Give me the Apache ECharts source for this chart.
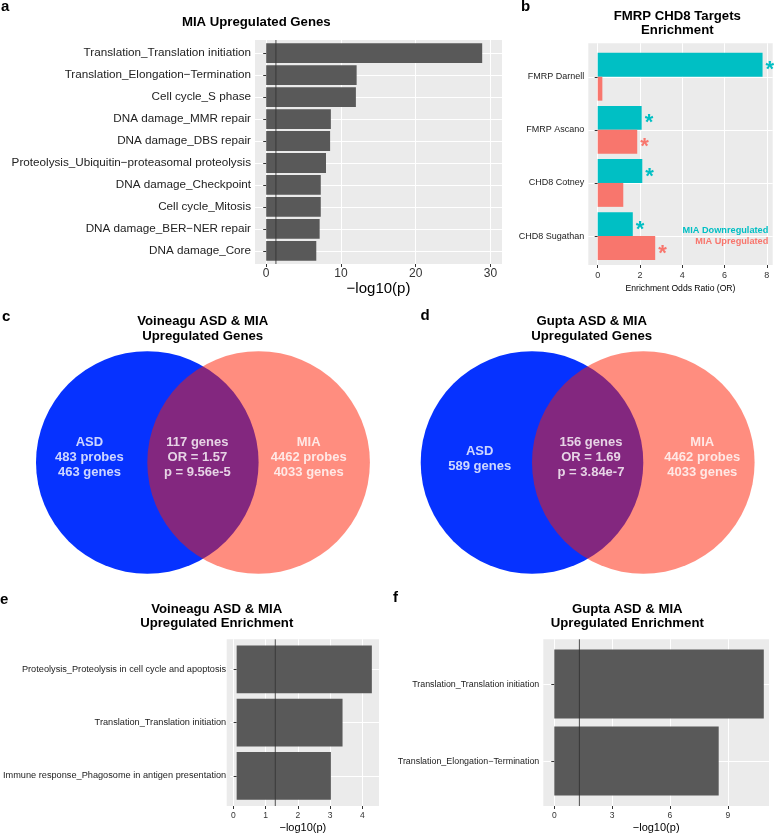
<!DOCTYPE html>
<html><head><meta charset="utf-8">
<script src="https://cdn.jsdelivr.net/npm/echarts@6/dist/echarts.min.js"></script>
<style>html,body{margin:0;padding:0;background:#fff}#chart{width:775px;height:836px}</style>
</head><body><div id="chart"></div>
<script>
// ---------------- data ----------------
const aCategories = [
  'Translation_Translation initiation',
  'Translation_Elongation\u2212Termination',
  'Cell cycle_S phase',
  'DNA damage_MMR repair',
  'DNA damage_DBS repair',
  'Proteolysis_Ubiquitin\u2212proteasomal proteolysis',
  'DNA damage_Checkpoint',
  'Cell cycle_Mitosis',
  'DNA damage_BER\u2212NER repair',
  'DNA damage_Core'
];
const aValues = [28.9, 12.1, 12.0, 8.65, 8.55, 8.0, 7.3, 7.3, 7.15, 6.7];
const aTicks = [0, 10, 20, 30];

const bCategories = ['FMRP Darnell', 'FMRP Ascano', 'CHD8 Cotney', 'CHD8 Sugathan'];
const bDownregulated = [7.8, 2.08, 2.11, 1.66];
const bUpregulated = [0.22, 1.87, 1.21, 2.72];
const bDownSignificant = [true, true, true, true];
const bUpSignificant = [false, true, false, true];
const bTicks = [0, 2, 4, 6, 8];

const cLabels = ['ASD\n483 probes\n463 genes', '117 genes\nOR = 1.57\np = 9.56e-5', 'MIA\n4462 probes\n4033 genes'];
const dLabels = ['ASD\n589 genes', '156 genes\nOR = 1.69\np = 3.84e-7', 'MIA\n4462 probes\n4033 genes'];

const eCategories = [
  'Proteolysis_Proteolysis in cell cycle and apoptosis',
  'Translation_Translation initiation',
  'Immune response_Phagosome in antigen presentation'
];
const eValues = [4.29, 3.36, 2.99];
const eTicks = [0, 1, 2, 3, 4];

const fCategories = ['Translation_Translation initiation', 'Translation_Elongation\u2212Termination'];
const fValues = [10.87, 8.53];
const fTicks = [0, 3, 6, 9];

const significanceLine = 1.301; // -log10(0.05)

// ---------------- build ----------------
const FONT = '"Liberation Sans", Arial, Helvetica, sans-serif';
const TEAL = '#00BFC4', RED = '#F8766D', BAR = '#595959';
const grids = [], xAxes = [], yAxes = [], series = [], titles = [];

function addBarPanel(p) {
  const gBg = grids.length;
  grids.push({left: p.left, top: p.top, width: p.width, height: p.height, show: true,
    backgroundColor: '#EBEBEB', borderWidth: 0});
  const gMain = grids.length;
  grids.push({left: p.left, top: p.catTop, width: p.width, height: p.catHeight});
  const xBg = xAxes.length;
  xAxes.push({type: 'value', gridIndex: gBg, min: p.xmin, max: p.xmax,
    minInterval: p.minorStep, maxInterval: p.minorStep,
    axisLine: {show: false},
    axisTick: {show: true, customValues: p.ticks, length: 3, lineStyle: {color: '#333', width: 1}},
    axisLabel: {customValues: p.ticks, color: '#333', fontSize: p.tickFont, margin: p.tickMargin, fontFamily: FONT},
    splitLine: {show: true, lineStyle: {color: '#fff', width: 1}},
    name: p.xName, nameLocation: 'middle', nameGap: p.nameGap,
    nameTextStyle: {fontSize: p.nameFont, color: '#000', fontFamily: FONT}});
  const xMain = xAxes.length;
  xAxes.push({type: 'value', gridIndex: gMain, min: p.xmin, max: p.xmax, show: false});
  const yBg = yAxes.length;
  yAxes.push({type: 'value', gridIndex: gBg, min: 0, max: 1, show: false});
  const yMain = yAxes.length;
  yAxes.push({type: 'category', gridIndex: gMain, data: p.cats, inverse: true,
    axisLine: {show: false},
    axisTick: {show: true, alignWithLabel: true, length: 3, lineStyle: {color: '#333', width: 1}},
    axisLabel: {color: '#222', fontSize: p.catFont, margin: p.catMargin, fontFamily: FONT},
    splitLine: {show: true, alignWithLabel: true, lineStyle: {color: '#fff', width: 1}}});
  p.series.forEach(s => {
    series.push(Object.assign({type: 'bar', xAxisIndex: xMain, yAxisIndex: yMain, animation: false, silent: true}, s));
  });
  if (p.vline) {
    series.push({type: 'line', xAxisIndex: xBg, yAxisIndex: yBg, symbol: 'none', silent: true, animation: false,
      data: [[significanceLine, 0], [significanceLine, 1]], z: 5,
      lineStyle: {color: '#333', width: 1, opacity: 0.85}});
  }
}

// Panel a
addBarPanel({left: 255, top: 40, width: 247, height: 224, catTop: 42.2, catHeight: 219.6,
  xmin: -1.5, xmax: 31.55, minorStep: 5, ticks: aTicks, tickFont: 12, tickMargin: 4,
  xName: '\u2212log10(p)', nameGap: 15, nameFont: 15, cats: aCategories, catFont: 11.7, catMargin: 4, vline: true,
  series: [{data: aValues, barWidth: 19.8, itemStyle: {color: BAR}}]});

// Panel b
function starData(vals, sig) {
  return vals.map((v, i) => ({value: v, label: {show: sig[i]}}));
}
const starLabel = c => ({show: false, position: 'right', distance: 3, formatter: '*', fontSize: 22,
  fontWeight: 'bold', color: c, offset: [0, 5.5], fontFamily: FONT});
addBarPanel({left: 588.3, top: 43.3, width: 184.4, height: 221.7, catTop: 50.2, catHeight: 212.4,
  xmin: -0.445, xmax: 8.28, minorStep: 1, ticks: bTicks, tickFont: 9, tickMargin: 6,
  xName: 'Enrichment Odds Ratio (OR)', nameGap: 19, nameFont: 8.6, cats: bCategories, catFont: 9, catMargin: 4, vline: false,
  series: [
    {name: 'MIA Downregulated', data: starData(bDownregulated, bDownSignificant), barWidth: 23.9, barGap: '0%',
      itemStyle: {color: TEAL}, label: starLabel(TEAL)},
    {name: 'MIA Upregulated', data: starData(bUpregulated, bUpSignificant), barWidth: 23.9, barGap: '0%',
      itemStyle: {color: RED}, label: starLabel(RED)}
  ]});

// Panel e
addBarPanel({left: 226.7, top: 639.3, width: 152.3, height: 166.7, catTop: 642.8, catHeight: 159.75,
  xmin: -0.205, xmax: 4.517, minorStep: 0.5, ticks: eTicks, tickFont: 8.5, tickMargin: 5,
  xName: '\u2212log10(p)', nameGap: 16, nameFont: 11, cats: eCategories, catFont: 9.2, catMargin: 4, vline: true,
  series: [{data: eValues, barWidth: 47.7, itemStyle: {color: BAR}}]});

// Panel f
addBarPanel({left: 543.3, top: 639.3, width: 225.7, height: 166.7, catTop: 645.6, catHeight: 154,
  xmin: -0.571, xmax: 11.14, minorStep: 1.5, ticks: fTicks, tickFont: 8.5, tickMargin: 5,
  xName: '\u2212log10(p)', nameGap: 16, nameFont: 11, cats: fCategories, catFont: 8.9, catMargin: 4, vline: true,
  series: [{data: fValues, barWidth: 69, itemStyle: {color: BAR}}]});

// Venn panels
function addVenn(v) {
  const g = grids.length;
  grids.push({left: v.left, top: v.top, width: 3 * v.r, height: 2 * v.r});
  const xi = xAxes.length, yi = yAxes.length;
  xAxes.push({type: 'value', gridIndex: g, min: 0, max: 3, show: false});
  yAxes.push({type: 'value', gridIndex: g, min: -1, max: 1, show: false});
  series.push({type: 'scatter', xAxisIndex: xi, yAxisIndex: yi, symbol: 'circle', symbolSize: 2 * v.r,
    silent: true, animation: false, data: [[1, 0]], itemStyle: {color: '#0632FF', opacity: 1}});
  series.push({type: 'scatter', xAxisIndex: xi, yAxisIndex: yi, symbol: 'circle', symbolSize: 2 * v.r,
    silent: true, animation: false, data: [[2, 0]], itemStyle: {color: 'rgb(255,28,0)', opacity: 0.5}});
  series.push({type: 'scatter', xAxisIndex: xi, yAxisIndex: yi, symbolSize: 0, silent: true, animation: false, z: 6,
    data: v.labels.map((t, i) => ({value: v.labelPos[i], label: {formatter: t}})),
    label: {show: true, position: 'inside', color: '#fff', fontWeight: 'bold', fontSize: 13, lineHeight: 15, fontFamily: FONT}});
}
addVenn({left: 36, top: 351.2, r: 111.3, labels: cLabels, labelPos: [[0.48, 0.044], [1.45, 0.044], [2.45, 0.044]]});
addVenn({left: 420.7, top: 351.2, r: 111.3, labels: dLabels, labelPos: [[0.53, 0.036], [1.53, 0.044], [2.53, 0.044]]});

// Titles & texts
function ttl(text, x, yc, size, align, color, lh, weight) {
  titles.push({text: text, left: x, top: yc - lh / 2, textAlign: align, padding: 0, itemGap: 0,
    textStyle: {fontSize: size, fontWeight: weight || 'bold', color: color || '#000', lineHeight: lh, fontFamily: FONT}});
}
ttl('a', 1, 7, 15, 'left', '#000', 15);
ttl('b', 521, 7, 15, 'left', '#000', 15);
ttl('c', 2, 316.5, 15, 'left', '#000', 15);
ttl('d', 420.5, 315.5, 15, 'left', '#000', 15);
ttl('e', 0, 599.5, 15, 'left', '#000', 15);
ttl('f', 393, 597.5, 15, 'left', '#000', 15);
ttl('MIA Upregulated Genes', 256.3, 22, 13.2, 'center', '#000', 15);
ttl('FMRP CHD8 Targets\nEnrichment', 677.3, 16, 13.2, 'center', '#000', 14);
ttl('Voineagu ASD & MIA\nUpregulated Genes', 202.7, 321.7, 13.2, 'center', '#000', 15);
ttl('Gupta ASD & MIA\nUpregulated Genes', 591.7, 321.7, 13.2, 'center', '#000', 15);
ttl('Voineagu ASD & MIA\nUpregulated Enrichment', 216.7, 609.3, 13.2, 'center', '#000', 14);
ttl('Gupta ASD & MIA\nUpregulated Enrichment', 627.3, 609.3, 13.2, 'center', '#000', 14);
ttl('MIA Downregulated', 768.3, 230, 9.2, 'right', TEAL, 11);
ttl('MIA Upregulated', 768.3, 241, 9.2, 'right', RED, 11);

const chart = echarts.init(document.getElementById('chart'), null, {renderer: 'canvas'});
chart.setOption({
  animation: false,
  backgroundColor: '#fff',
  textStyle: {fontFamily: FONT},
  title: titles,
  grid: grids,
  xAxis: xAxes,
  yAxis: yAxes,
  series: series
});
</script></body></html>
